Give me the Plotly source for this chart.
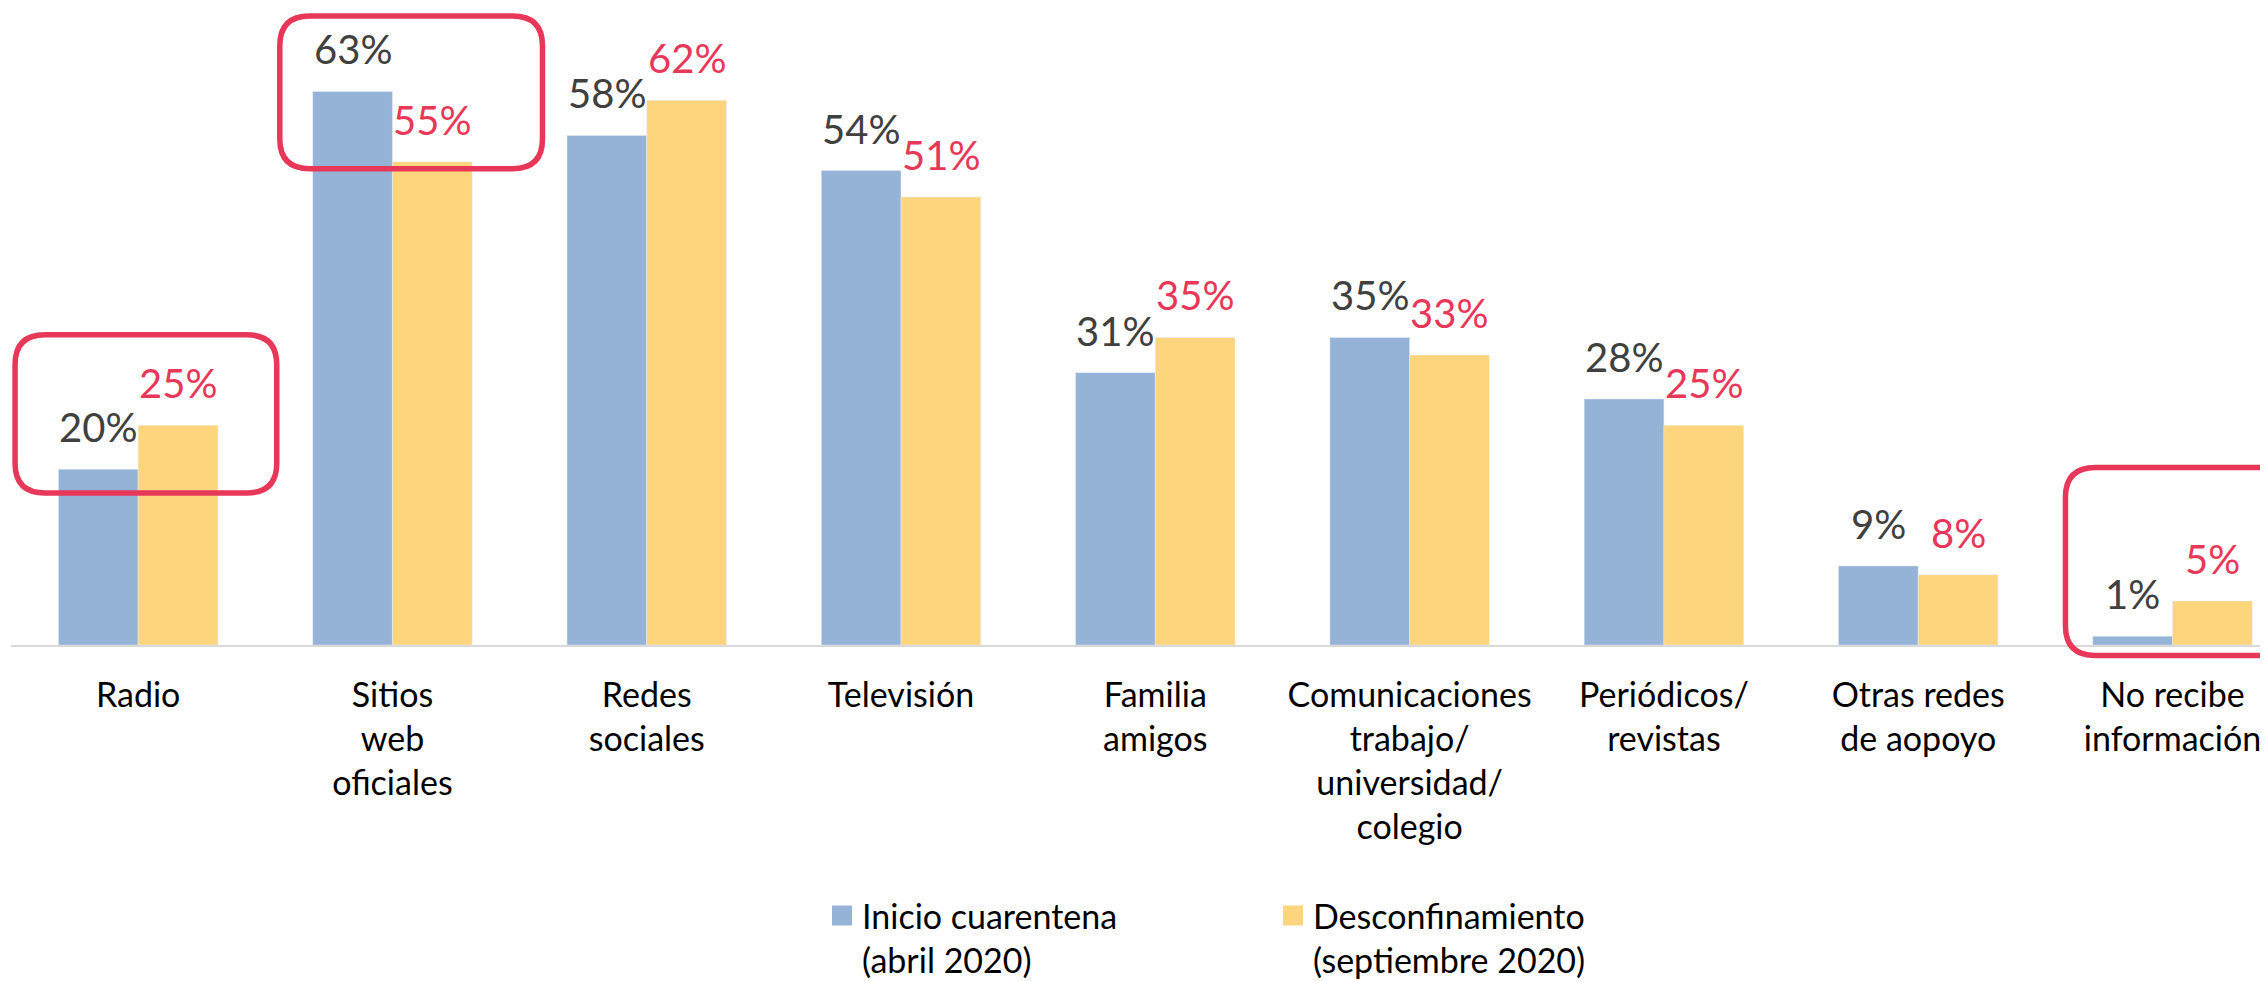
import plotly.graph_objects as go

categories = ["Radio", "Sitios<br>web<br>oficiales", "Redes<br>sociales", "Televisión",
              "Familia<br>amigos", "Comunicaciones<br>trabajo/<br>universidad/<br>colegio",
              "Periódicos/<br>revistas", "Otras redes<br>de aopoyo", "No recibe<br>información"]
inicio = [20, 63, 58, 54, 31, 35, 28, 9, 1]
desconf = [25, 55, 62, 51, 35, 33, 25, 8, 5]
name_inicio = "Inicio cuarentena<br>(abril 2020)"
name_desconf = "Desconfinamiento<br>(septiembre 2020)"

BLUE = "#95B3D7"
YELLOW = "#FDD57C"
RED = "#E8385A"
DARK = "#404040"
FONT = "Lato"

W, H = 2268, 981
ML, MR, MT, MB = 3, 0, 0, 339
XR = [-0.5, 8.407]
YR = [0, 72.5]
BARGAP = 0.373
plot_w = W - ML - MR
plot_h = H - MT - MB

fig = go.Figure()
fig.add_trace(go.Bar(x=list(range(len(categories))), y=inicio, marker_color=BLUE,
                     name=name_inicio, showlegend=False))
fig.add_trace(go.Bar(x=list(range(len(categories))), y=desconf, marker_color=YELLOW,
                     name=name_desconf, showlegend=False))
# legend entries
for nm, col in [(name_inicio, BLUE), (name_desconf, YELLOW)]:
    fig.add_trace(go.Scatter(x=[None], y=[None], mode="markers", name=nm,
                             marker=dict(symbol="square", size=16, color=col,
                                         line=dict(color=col, width=4))))

# data labels
half = (1 - BARGAP) / 4
annotations = []
for i in range(len(categories)):
    annotations.append(dict(x=i - half, y=inicio[i], xref="x", yref="y", text=f"{inicio[i]}%",
                            showarrow=False, yanchor="bottom", yshift=16,
                            font=dict(family=FONT, size=40, color=DARK)))
    annotations.append(dict(x=i + half, y=desconf[i], xref="x", yref="y", text=f"{desconf[i]}%",
                            showarrow=False, yanchor="bottom", yshift=16,
                            font=dict(family=FONT, size=40, color=RED)))

# highlight boxes (data units), converted to paper coords
boxes = [(-0.484, 0.545, 17.3, 35.3), (0.557, 1.59, 54.2, 71.6), (7.579, 8.47, -1.2, 20.2)]
R = 30

def px(v):
    return (v - XR[0]) / (XR[1] - XR[0])

def py(v):
    return (v - YR[0]) / (YR[1] - YR[0])

shapes = []
for x0, x1, y0, y1 in boxes:
    a, b, c, d = px(x0), px(x1), py(y0), py(y1)
    rx, ry = R / plot_w, R / plot_h
    path = (f"M{a+rx},{c} L{b-rx},{c} Q{b},{c} {b},{c+ry} L{b},{d-ry} Q{b},{d} {b-rx},{d} "
            f"L{a+rx},{d} Q{a},{d} {a},{d-ry} L{a},{c+ry} Q{a},{c} {a+rx},{c} Z")
    shapes.append(dict(type="path", path=path, xref="paper", yref="paper",
                       line=dict(color=RED, width=5.5), fillcolor="rgba(0,0,0,0)"))

fig.update_layout(
    width=W, height=H,
    margin=dict(l=ML, r=MR, t=MT, b=MB),
    paper_bgcolor="white", plot_bgcolor="white",
    barmode="group", bargap=BARGAP, bargroupgap=0,
    font=dict(family=FONT, size=34, color="black"),
    xaxis=dict(range=XR, tickmode="array", tickvals=list(range(len(categories))),
               ticktext=categories, showline=True, linecolor="#D9D9D9", linewidth=2,
               ticks="", showgrid=False, zeroline=False, ticklabelstandoff=19,
               tickfont=dict(family=FONT, size=34, color="black")),
    yaxis=dict(range=YR, visible=False, showgrid=False, zeroline=False),
    legend=dict(orientation="h", x=(814 - ML) / plot_w, xanchor="left",
                y=(642 - 886) / plot_h, yanchor="top", valign="top",
                font=dict(family=FONT, size=34, color="black"),
                entrywidth=406, itemsizing="trace", bgcolor="rgba(0,0,0,0)"),
    annotations=annotations,
    shapes=shapes,
)

fig.write_html("out.html")
